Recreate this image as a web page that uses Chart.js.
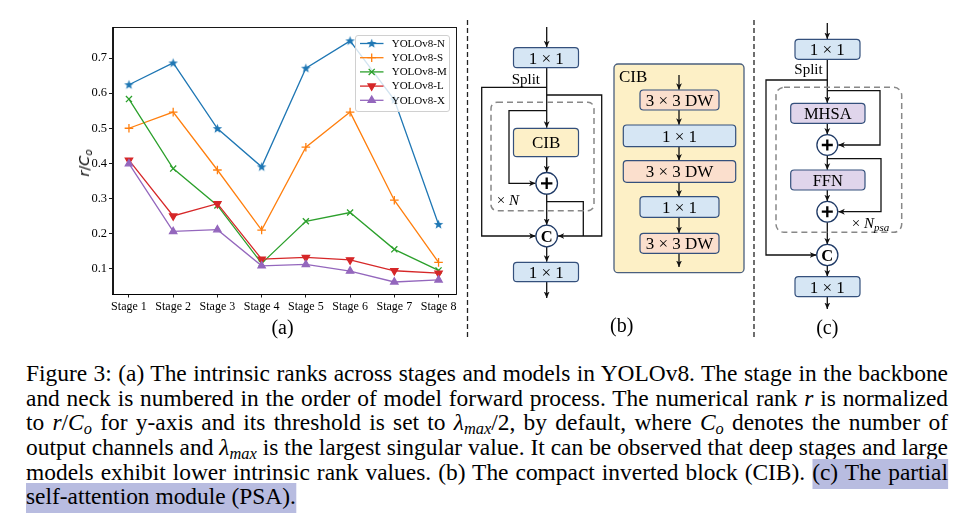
<!DOCTYPE html>
<html><head><meta charset="utf-8">
<script src="https://cdn.jsdelivr.net/npm/chart.js@4"></script>
<style>
html,body{margin:0;padding:0;background:#fff;}
#page{position:relative;width:971px;height:518px;overflow:hidden;font-family:"Liberation Serif",serif;color:#000;}
#chart{position:absolute;left:0;top:0;}
#ylab{position:absolute;left:84px;top:163px;transform:translate(-50%,-50%) rotate(-90deg);white-space:nowrap;font-family:"DejaVu Sans",sans-serif;font-size:14.5px;}
#ylab sub{font-size:0.7em;vertical-align:-0.25em;line-height:0;}
.sublbl{position:absolute;font-size:20px;transform:translate(-50%,-50%);white-space:nowrap;}
#diag{position:absolute;left:0;top:0;}
#cap{position:absolute;left:26px;top:361.3px;width:922px;font-size:24px;line-height:24.6px;transform-origin:0 0;}
#cap .ln{text-align:justify;text-align-last:justify;white-space:nowrap;}
#cap .last{text-align:left;text-align-last:left;}
#cap sub{font-size:0.7em;vertical-align:-0.22em;line-height:0;}
#cap i{font-style:italic;}
.hl{background:#b8bce0;padding:0 0 4px 0;}
</style></head><body>
<div id="page">
<canvas id="chart" width="465" height="345"></canvas>
<div id="ylab"><i>r</i>/<i>C</i><sub><i>o</i></sub></div>
<div class="sublbl" style="left:282.5px;top:326.7px;">(a)</div>
<div class="sublbl" style="left:621.7px;top:325px;">(b)</div>
<div class="sublbl" style="left:827.3px;top:326.7px;">(c)</div>

<svg id="diag" width="971" height="345" xmlns="http://www.w3.org/2000/svg" font-family="Liberation Serif, serif">
<defs>
<marker id="ah" viewBox="0 0 8 8" refX="8" refY="4" markerWidth="6.5" markerHeight="6.5" markerUnits="userSpaceOnUse" orient="auto">
<path d="M0,0.4 L8,4 L0,7.6 L2.2,4 z" fill="#111"/>
</marker>
</defs>
<line x1="467.5" y1="20" x2="467.5" y2="340" stroke="#222" stroke-width="1.3" stroke-dasharray="5 3"/>
<line x1="754" y1="20" x2="754" y2="340" stroke="#222" stroke-width="1.3" stroke-dasharray="5 3"/>

<g fill="none" stroke="#111" stroke-width="1.3">
<path d="M546.7,27 L546.7,47.2" marker-end="url(#ah)"/>
<path d="M546.7,67.7 L546.7,127.8" marker-end="url(#ah)"/>
<path d="M546.7,87.3 L481.7,87.3 L481.7,236 L535.6,236" marker-end="url(#ah)"/>
<path d="M546.7,95 L601.7,95 L601.7,236 L557.8,236" marker-end="url(#ah)"/>
<path d="M546.7,110.7 L509,110.7 L509,183.3 L535.6,183.3" marker-end="url(#ah)"/>
<path d="M546.7,156.7 L546.7,172.3" marker-end="url(#ah)"/>
<path d="M546.7,194.1 L546.7,225" marker-end="url(#ah)"/>
<path d="M546.7,201.7 L583.3,201.7 L583.3,236"/>
<path d="M546.7,246.8 L546.7,261.8" marker-end="url(#ah)"/>
<path d="M546.7,281.7 L546.7,298" marker-end="url(#ah)"/>
</g>
<rect x="491" y="102.3" width="103" height="108.4" rx="6" fill="none" stroke="#888" stroke-width="1.5" stroke-dasharray="6 4"/>
<rect x="513.5" y="47.7" width="65" height="20" rx="3.5" fill="#d6e6f4" stroke="#34507c" stroke-width="1.2"/>
<text x="546.2" y="58" font-size="17" text-anchor="middle" dominant-baseline="central">1 × 1</text>
<text x="540" y="83.5" font-size="15" text-anchor="end">Split</text>
<rect x="513.5" y="128.3" width="65" height="28.4" rx="3.5" fill="#fdf0c8" stroke="#34507c" stroke-width="1.2"/>
<text x="546.2" y="142.8" font-size="17" text-anchor="middle" dominant-baseline="central">CIB</text>
<circle cx="546.7" cy="183.3" r="10.8" fill="#fff" stroke="#1f3a66" stroke-width="1.3"/>
<path d="M541,183.3 L552.4,183.3 M546.7,177.6 L546.7,189" stroke="#000" stroke-width="2.3"/>
<text x="496.7" y="204.5" font-size="15">× <tspan font-style="italic">N</tspan></text>
<circle cx="546.7" cy="236" r="10.8" fill="#fff" stroke="#1f3a66" stroke-width="1.3"/>
<text x="546.7" y="236.8" font-size="16.5" font-weight="bold" text-anchor="middle" dominant-baseline="central">C</text>
<rect x="513.5" y="262.3" width="65" height="19.4" rx="3.5" fill="#d6e6f4" stroke="#34507c" stroke-width="1.2"/>
<text x="546.2" y="272.2" font-size="17" text-anchor="middle" dominant-baseline="central">1 × 1</text>

<rect x="614" y="64" width="130" height="208.7" rx="4" fill="#fdf0c6" stroke="#4a5f7e" stroke-width="1.3"/>
<text x="619" y="82" font-size="17">CIB</text>
<g fill="none" stroke="#111" stroke-width="1.3">
<path d="M679,75 L679,89.8" marker-end="url(#ah)"/>
<path d="M679,110 L679,124.8" marker-end="url(#ah)"/>
<path d="M679,146.7 L679,160.5" marker-end="url(#ah)"/>
<path d="M679,182.3 L679,196.5" marker-end="url(#ah)"/>
<path d="M679,217.3 L679,233.1" marker-end="url(#ah)"/>
<path d="M679,253.3 L679,267" marker-end="url(#ah)"/>
</g>
<rect x="640" y="90" width="79" height="20" rx="3.5" fill="#fbdfcd" stroke="#34507c" stroke-width="1.2"/>
<text x="679.5" y="100.2" font-size="17" text-anchor="middle" dominant-baseline="central">3 × 3 DW</text>
<rect x="623.3" y="125" width="112.4" height="21.7" rx="3.5" fill="#d6e6f4" stroke="#34507c" stroke-width="1.2"/>
<text x="679.5" y="136" font-size="17" text-anchor="middle" dominant-baseline="central">1 × 1</text>
<rect x="623.3" y="160.7" width="112.4" height="21.6" rx="3.5" fill="#fbdfcd" stroke="#34507c" stroke-width="1.2"/>
<text x="679.5" y="171.7" font-size="17" text-anchor="middle" dominant-baseline="central">3 × 3 DW</text>
<rect x="640" y="196.7" width="79" height="20.6" rx="3.5" fill="#d6e6f4" stroke="#34507c" stroke-width="1.2"/>
<text x="679.5" y="207.2" font-size="17" text-anchor="middle" dominant-baseline="central">1 × 1</text>
<rect x="640" y="233.3" width="79" height="20" rx="3.5" fill="#fbdfcd" stroke="#34507c" stroke-width="1.2"/>
<text x="679.5" y="243.5" font-size="17" text-anchor="middle" dominant-baseline="central">3 × 3 DW</text>

<g fill="none" stroke="#111" stroke-width="1.3">
<path d="M827.3,23 L827.3,39" marker-end="url(#ah)"/>
<path d="M827.3,59.3 L827.3,103" marker-end="url(#ah)"/>
<path d="M827.3,80 L766,80 L766,255 L816.3,255" marker-end="url(#ah)"/>
<path d="M827.3,90.7 L880,90.7 L880,145 L838.3,145" marker-end="url(#ah)"/>
<path d="M827.3,123.3 L827.3,134.5" marker-end="url(#ah)"/>
<path d="M827.3,155.5 L827.3,169.8" marker-end="url(#ah)"/>
<path d="M827.3,158.7 L881,158.7 L881,211.7 L838.3,211.7" marker-end="url(#ah)"/>
<path d="M827.3,190 L827.3,201.2" marker-end="url(#ah)"/>
<path d="M827.3,222.2 L827.3,244.5" marker-end="url(#ah)"/>
<path d="M827.3,265.5 L827.3,276.5" marker-end="url(#ah)"/>
<path d="M827.3,296.7 L827.3,309" marker-end="url(#ah)"/>
</g>
<rect x="776" y="87.3" width="125.7" height="145" rx="8" fill="none" stroke="#888" stroke-width="1.5" stroke-dasharray="6 4"/>
<rect x="795" y="39.3" width="65" height="20" rx="3.5" fill="#d6e6f4" stroke="#34507c" stroke-width="1.2"/>
<text x="827.3" y="49.6" font-size="17" text-anchor="middle" dominant-baseline="central">1 × 1</text>
<text x="822.7" y="74" font-size="15" text-anchor="end">Split</text>
<rect x="790.7" y="103.3" width="74.3" height="20" rx="3.5" fill="#e0d5eb" stroke="#34507c" stroke-width="1.2"/>
<text x="827.8" y="113.6" font-size="16.5" text-anchor="middle" dominant-baseline="central">MHSA</text>
<circle cx="827.3" cy="145" r="10.4" fill="#fff" stroke="#1f3a66" stroke-width="1.3"/>
<path d="M821.8,145 L832.8,145 M827.3,139.5 L827.3,150.5" stroke="#000" stroke-width="2.3"/>
<rect x="790.7" y="170" width="74.3" height="20" rx="3.5" fill="#e0d5eb" stroke="#34507c" stroke-width="1.2"/>
<text x="827.8" y="180.3" font-size="16.5" text-anchor="middle" dominant-baseline="central">FFN</text>
<circle cx="827.3" cy="211.7" r="10.4" fill="#fff" stroke="#1f3a66" stroke-width="1.3"/>
<path d="M821.8,211.7 L832.8,211.7 M827.3,206.2 L827.3,217.2" stroke="#000" stroke-width="2.3"/>
<text x="851.7" y="228" font-size="15">× <tspan font-style="italic">N</tspan><tspan font-style="italic" font-size="11" dy="3">psa</tspan></text>
<circle cx="827.3" cy="255" r="10.6" fill="#fff" stroke="#1f3a66" stroke-width="1.3"/>
<text x="827.3" y="255.8" font-size="16.5" font-weight="bold" text-anchor="middle" dominant-baseline="central">C</text>
<rect x="795" y="276.7" width="65" height="20" rx="3.5" fill="#d6e6f4" stroke="#34507c" stroke-width="1.2"/>
<text x="827.3" y="287" font-size="17" text-anchor="middle" dominant-baseline="central">1 × 1</text>
</svg>

<div id="cap">
<div class="ln">Figure 3: (a) The intrinsic ranks across stages and models in YOLOv8. The stage in the backbone</div>
<div class="ln">and neck is numbered in the order of model forward process. The numerical rank <i>r</i> is normalized</div>
<div class="ln">to <i>r</i>/<i>C<sub>o</sub></i> for y-axis and its threshold is set to <i>λ<sub>max</sub></i>/2, by default, where <i>C<sub>o</sub></i> denotes the number of</div>
<div class="ln">output channels and <i>λ<sub>max</sub></i> is the largest singular value. It can be observed that deep stages and large</div>
<div class="ln">models exhibit lower intrinsic rank values. (b) The compact inverted block (CIB). <span class="hl">(c) The partial</span></div>
<div class="ln last"><span class="hl">self-attention module (PSA).</span></div>
</div>
</div>

<script>
// ---- data ----
const stages = ["Stage 1","Stage 2","Stage 3","Stage 4","Stage 5","Stage 6","Stage 7","Stage 8"];
const yTickValues = [0.1,0.2,0.3,0.4,0.5,0.6,0.7];
const modelNames = ["YOLOv8-N","YOLOv8-S","YOLOv8-M","YOLOv8-L","YOLOv8-X"];
const yolov8N = [0.624,0.686,0.499,0.390,0.671,0.749,0.581,0.226];
const yolov8S = [0.500,0.546,0.381,0.210,0.446,0.546,0.295,0.118];
const yolov8M = [0.583,0.385,0.280,0.115,0.235,0.260,0.155,0.095];
const yolov8L = [0.409,0.250,0.285,0.127,0.132,0.125,0.094,0.087];
const yolov8X = [0.399,0.206,0.211,0.108,0.112,0.093,0.062,0.068];
const seriesColors = ["#1f77b4","#ff7f0e","#2ca02c","#d62728","#9467bd"];

// ---- caption fitting (horizontal condensing to reference width) ----
(function(){
  const cap=document.getElementById('cap');
  const lines=[...cap.querySelectorAll('.ln')].slice(0,5);
  let maxW=0;
  lines.forEach(l=>{
    const sp=document.createElement('span');
    sp.style.whiteSpace='nowrap'; sp.style.position='absolute'; sp.style.visibility='hidden';
    sp.innerHTML=l.innerHTML; cap.appendChild(sp);
    maxW=Math.max(maxW,sp.getBoundingClientRect().width); sp.remove();
  });
  const target=922;
  cap.style.width=(maxW+1)+'px';
  cap.style.transform='scaleX('+(target/(maxW+1))+')';
})();

function makeStar(color){
  const c=document.createElement('canvas'); c.width=11; c.height=11;
  const g=c.getContext('2d'); g.fillStyle=color; g.beginPath();
  const R=5, r=2.1, cx=5.5, cy=5.7;
  for(let k=0;k<10;k++){const a=-Math.PI/2+k*Math.PI/5; const rr=k%2?r:R; const x=cx+rr*Math.cos(a), y=cy+rr*Math.sin(a); k?g.lineTo(x,y):g.moveTo(x,y);}
  g.closePath(); g.fill(); return c;
}
const markerStyles = [
  {pointStyle: makeStar(seriesColors[0]), radius:4, rotation:0},
  {pointStyle:'cross', radius:4.3, rotation:0},
  {pointStyle:'crossRot', radius:4.3, rotation:0},
  {pointStyle:'triangle', radius:4.2, rotation:180},
  {pointStyle:'triangle', radius:4.2, rotation:0}
];
const allSeries=[yolov8N,yolov8S,yolov8M,yolov8L,yolov8X];

const datasets = allSeries.map((vals,i)=>({
  label: modelNames[i],
  data: vals.map((v,j)=>({x:j,y:v})),
  borderColor: seriesColors[i],
  backgroundColor: seriesColors[i],
  borderWidth: 1.3,
  pointStyle: markerStyles[i].pointStyle,
  pointRadius: markerStyles[i].radius,
  pointRotation: markerStyles[i].rotation,
  pointBorderWidth: 1.3,
  pointBorderColor: seriesColors[i],
  pointBackgroundColor: seriesColors[i],
  tension: 0,
  order: -i
}));

const framePlugin = {
  id:'frameLegend',
  afterDatasetsDraw(chart){
    const ctx=chart.ctx, a=chart.chartArea;
    ctx.save();
    const lx=355, ly=35, lw=94, lh=76;
    ctx.beginPath();
    if(ctx.roundRect) ctx.roundRect(lx+0.5,ly+0.5,lw,lh,2.5); else ctx.rect(lx+0.5,ly+0.5,lw,lh);
    ctx.fillStyle='rgba(255,255,255,0.8)'; ctx.fill();
    ctx.strokeStyle='#d0d0d0'; ctx.lineWidth=1; ctx.stroke();
    ctx.font='11px "Liberation Serif"'; ctx.textBaseline='middle'; ctx.textAlign='left';
    modelNames.forEach((name,i)=>{
      const y=43.5+i*14.2;
      ctx.strokeStyle=seriesColors[i]; ctx.fillStyle=seriesColors[i]; ctx.lineWidth=1.3;
      ctx.beginPath(); ctx.moveTo(360,y); ctx.lineTo(383.5,y); ctx.stroke();
      Chart.helpers.drawPoint(ctx,{pointStyle:markerStyles[i].pointStyle,radius:markerStyles[i].radius,rotation:markerStyles[i].rotation,borderWidth:1.3},371.7,y);
      ctx.fillStyle='#000'; ctx.fillText(name,391.7,y+0.5);
    });
    ctx.strokeStyle='#000'; ctx.lineWidth=0.9;
    ctx.strokeRect(Math.round(a.left)+0.5,Math.round(a.top)+0.5,Math.round(a.right-a.left),Math.round(a.bottom-a.top));
    ctx.restore();
  }
};

new Chart(document.getElementById('chart'),{
  type:'line',
  data:{datasets},
  options:{
    responsive:false, animation:false, devicePixelRatio:1,
    layout:{padding:{left:0,top:27,right:10,bottom:0}},
    plugins:{legend:{display:false},tooltip:{enabled:false}},
    scales:{
      x:{type:'linear',min:-0.372,max:7.372,
        afterBuildTicks:s=>{s.ticks=stages.map((_,i)=>({value:i}));},
        afterFit:s=>{s.height=51;},
        ticks:{callback:v=>stages[v],color:'#000',font:{family:'Liberation Serif',size:12},padding:2,maxRotation:0,autoSkip:false},
        grid:{drawOnChartArea:false,drawTicks:true,tickLength:3.5,color:'#000',tickWidth:0.9},
        border:{display:true,color:'#000',width:0.9}
      },
      y:{type:'linear',min:0.0278,max:0.7884,
        afterBuildTicks:s=>{s.ticks=yTickValues.map(v=>({value:v}));},
        afterFit:s=>{s.width=112.5;},
        ticks:{callback:v=>v.toFixed(1),color:'#000',font:{family:'Liberation Serif',size:12.5},padding:2},
        grid:{drawOnChartArea:false,drawTicks:true,tickLength:3.5,color:'#000',tickWidth:0.9},
        border:{display:true,color:'#000',width:0.9}
      }
    }
  },
  plugins:[framePlugin]
});
</script>
</body></html>
